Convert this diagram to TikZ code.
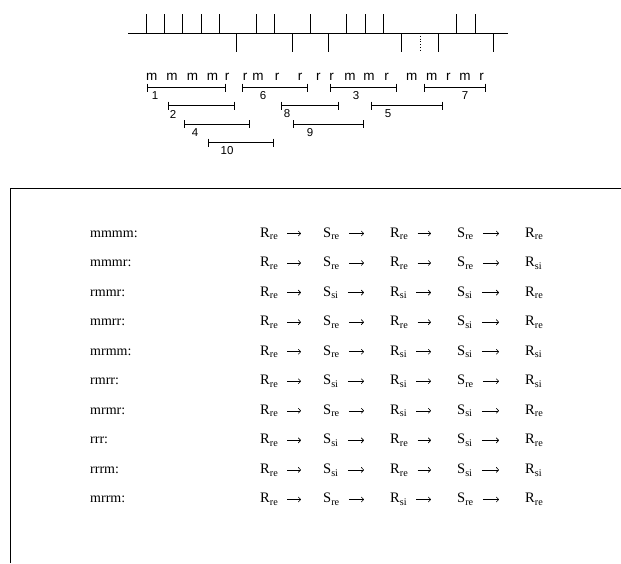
\documentclass[tikz,border=0pt]{standalone}
\usepackage{fontspec}
\setmainfont{Liberation Serif}
\newfontfamily\rulerfont{Liberation Sans}
\usetikzlibrary{arrows.meta}
\newcommand\sbx[1]{\raisebox{-2.6pt}{\fontsize{10.2}{10.2}\selectfont #1}}
\begin{document}
\begin{tikzpicture}[x=1pt,y=-1pt,
  rule/.style={line width=0.8pt},
  letter/.style={font=\rulerfont\fontsize{13.5}{13.5}\selectfont, inner sep=0pt, anchor=base},
  dig/.style={font=\rulerfont\fontsize{11.5}{11.5}\selectfont, inner sep=0pt},
  lab/.style={font=\fontsize{14}{16}\selectfont, inner sep=0pt, anchor=base west},
  term/.style={font=\fontsize{14.5}{16}\selectfont, inner sep=0pt, anchor=base west, text height=10pt, text depth=3pt},
  arr/.style={-{To[length=3pt,width=5.5pt]}, line width=0.6pt, shorten <=9.5pt, shorten >=22pt},
  arrlong/.style={arr, shorten >=26pt},
  frame/.style={line width=0.9pt}]
\useasboundingbox (0,0) rectangle (621,563);
% ruler
\coordinate (rs) at (128,33);
\coordinate (re) at (508,33);
\draw[rule] (rs) -- (re);
\foreach \x in {146.7,164.3,182.7,201,219.3,256,274,310,346.7,365,383.3,456.7,475}
  \draw[rule] (\x,14) -- (\x,33);
\foreach \x in {236.7,292.3,328.3,401.7,438.3,493.3}
  \draw[rule] (\x,33) -- (\x,52);
\draw[rule, dotted] (420,33) -- (420,52);
% letters
\foreach \x/\c [count=\i] in {151.7/m,172/m,192.5/m,212.5/m,227/r,245/r,258/m,277/r,300/r,318.3/r,331.7/r,350/m,369/m,386.7/r,411.7/m,431.7/m,448.3/r,465/m,481.7/r}
  \node[letter] (L\i) at (\x,80) {\c};
% brackets
\foreach \a/\b/\y/\lx/\l in {147/225/87.5/155/1, 242/307/87.5/263/6, 330/396/87.5/356/3, 424/485/87.5/465/7, 168/234/105.5/173/2, 281/338/105.5/287/8, 371/442/105.5/388/5, 184/249/124/195/4, 293/363/124/310/9, 208/273/142.5/227/10}
{
  \coordinate (bl\l) at (\a,\y);
  \coordinate (br\l) at (\b,\y);
  \draw[rule] (bl\l) -- (br\l);
  \draw[rule] ([yshift=4pt]bl\l) -- ([yshift=-4pt]bl\l);
  \draw[rule] ([yshift=4pt]br\l) -- ([yshift=-4pt]br\l);
  \node[dig] (n\l) at (\lx,\y+8.5) {\l};
}
% frame
\coordinate (bxa) at (10,563);
\coordinate (bxb) at (10,188);
\coordinate (bxc) at (621,188);
\draw[frame] (bxa) -- (bxb) -- (bxc);
% table
\foreach \lab/\pa/\pb/\pc/\pd/\pe [count=\i] in {
  mmmm/re/re/re/re/re,
  mmmr/re/re/re/re/si,
  rmmr/re/si/si/si/re,
  mmrr/re/re/re/si/re,
  mrmm/re/re/si/si/si,
  rmrr/re/si/si/re/si,
  mrmr/re/re/si/si/re,
  rrr/re/si/re/si/re,
  rrrm/re/si/re/si/si,
  mrrm/re/re/si/re/re}
{
  \pgfmathsetmacro\yy{237+29.55*(\i-1)}
  \node[lab] (row\i) at (90,\yy) {\lab:};
  \node[term] (t\i-a) at (260,\yy) {R\sbx{\pa}};
  \node[term] (t\i-b) at (323,\yy) {S\sbx{\pb}};
  \node[term] (t\i-c) at (390,\yy) {R\sbx{\pc}};
  \node[term] (t\i-d) at (457,\yy) {S\sbx{\pd}};
  \node[term] (t\i-e) at (525,\yy) {R\sbx{\pe}};
  \draw[arr] (t\i-a.east) -- (t\i-b.west);
  \draw[arrlong] (t\i-b.east) -- (t\i-c.west);
  \draw[arrlong] (t\i-c.east) -- (t\i-d.west);
  \draw[arrlong] (t\i-d.east) -- (t\i-e.west);
}
\end{tikzpicture}
\end{document}
